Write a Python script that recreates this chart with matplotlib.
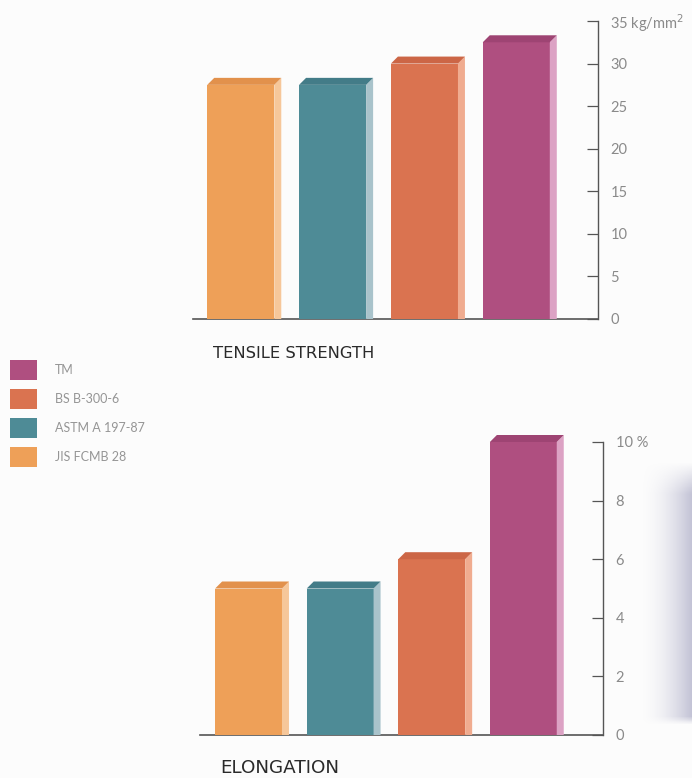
import matplotlib
matplotlib.use("Agg")
import matplotlib.pyplot as plt
import numpy as np
from matplotlib.patches import Polygon, Rectangle

standards = ["JIS FCMB 28", "ASTM A 197-87", "BS B-300-6", "TM"]
tensile = [27.5, 27.5, 30, 32.5]
elongation = [5, 5, 6, 10]
tensile_ticks = [0, 5, 10, 15, 20, 25, 30, 35]
tensile_ticklabels = ["0", "5", "10", "15", "20", "25", "30", "35 kg/mm$^2$"]
elong_ticks = [0, 2, 4, 6, 8, 10]
elong_ticklabels = ["0", "2", "4", "6", "8", "10 %"]

front = ["#EEA058", "#4E8B96", "#DA7350", "#AF4F80"]
topc = ["#E2914C", "#437C88", "#CC6646", "#9E4473"]
side = ["#F6C79A", "#A9C3CB", "#F0AC90", "#DCA2C4"]

W, H = 692, 778
fig = plt.figure(figsize=(W / 100, H / 100), dpi=100)
fig.patch.set_facecolor("#FCFCFC")

TICK_COLOR = "#8A8A8A"
FONT = "Lato"


def ax_rect(x0, y0, x1, y1):
    return [x0 / W, 1 - y1 / H, (x1 - x0) / W, (y1 - y0) / H]


def draw_bars(ax, vals, width=0.73, dx_px=7, dy_px=7):
    fig.canvas.draw()
    bbox = ax.get_window_extent()
    x0, x1 = ax.get_xlim()
    y0, y1 = ax.get_ylim()
    ux = (x1 - x0) / bbox.width
    uy = (y1 - y0) / bbox.height
    dx = dx_px * ux
    dy = dy_px * uy
    for i, v in enumerate(vals):
        l = i - width / 2
        r = i + width / 2
        ax.add_patch(Rectangle((l, 0), width, v, facecolor=front[i],
                               edgecolor="none", clip_on=False, zorder=3))
        ax.add_patch(Polygon([(r, 0), (r + dx, 0), (r + dx, v + dy), (r, v)],
                             closed=True, facecolor=side[i], edgecolor="none",
                             clip_on=False, zorder=3))
        ax.add_patch(Polygon([(l, v), (r, v), (r + dx, v + dy), (l + dx, v + dy)],
                             closed=True, facecolor=topc[i], edgecolor="none",
                             clip_on=False, zorder=3))


def style_axes(ax, ticks, labels, ymax, xlim):
    ax.set_facecolor("none")
    ax.set_xlim(*xlim)
    ax.set_ylim(0, ymax)
    for s in ["top", "left"]:
        ax.spines[s].set_visible(False)
    ax.spines["right"].set_color("#555555")
    ax.spines["bottom"].set_color("#555555")
    ax.spines["right"].set_linewidth(1.0)
    ax.spines["bottom"].set_linewidth(1.2)
    ax.yaxis.tick_right()
    ax.set_yticks(ticks)
    ax.set_yticklabels(labels)
    ax.tick_params(axis="y", direction="in", length=8, width=0.9, color="#555555",
                   labelcolor=TICK_COLOR, labelsize=10.5, pad=9)
    for t in ax.get_yticklabels():
        t.set_fontfamily(FONT)
    ax.set_xticks([])
    ax.tick_params(axis="x", length=0)


ax1 = fig.add_axes(ax_rect(193, 21, 598, 319))
style_axes(ax1, tensile_ticks, tensile_ticklabels, 35, (-0.52, 3.89))
draw_bars(ax1, tensile)

ax2 = fig.add_axes(ax_rect(200, 442, 603, 735))
style_axes(ax2, elong_ticks, elong_ticklabels, 10, (-0.53, 3.87))
draw_bars(ax2, elongation)

fig.text(213 / W, 1 - 353 / H, "TENSILE STRENGTH", fontsize=11.8, color="#2A2A2A",
         family="DejaVu Sans", va="center", ha="left")
fig.text(220 / W, 1 - 768 / H, "ELONGATION", fontsize=13.2, color="#2A2A2A",
         family="DejaVu Sans", va="center", ha="left")

# legend (top to bottom: TM, BS, ASTM, JIS)
leg_y = [370, 399, 428, 457]
for k, idx in enumerate([3, 2, 1, 0]):
    y = leg_y[k]
    fig.patches.append(Rectangle((10 / W, 1 - (y + 10) / H), 27 / W, 20 / H,
                                 transform=fig.transFigure, facecolor=front[idx],
                                 edgecolor="none"))
    fig.text(55 / W, 1 - y / H, standards[idx], fontsize=9, color="#959595",
             family=FONT, va="center", ha="left")

# page shadow on right edge
grad_ax = fig.add_axes(ax_rect(640, 462, 692, 725))
gx = np.linspace(0, 1, 120) ** 1.8
gy = np.linspace(0, 1, 200)
vy = np.clip(np.minimum(gy / 0.12, (1 - gy) / 0.03), 0, 1)
alpha = np.outer(vy, gx) * 0.9
img = np.zeros((200, 120, 4))
img[:, :, 0] = 0.74
img[:, :, 1] = 0.74
img[:, :, 2] = 0.82
img[:, :, 3] = alpha
grad_ax.imshow(img, aspect="auto", extent=[0, 1, 0, 1])
grad_ax.axis("off")

fig.savefig("out.png", dpi=100, facecolor=fig.get_facecolor())
